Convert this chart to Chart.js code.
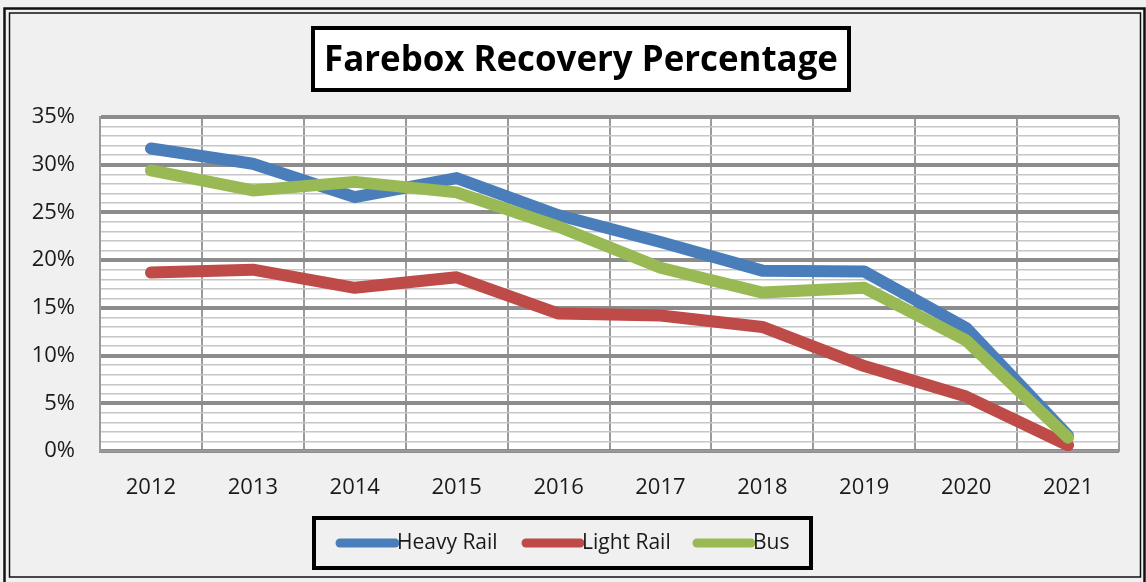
<!DOCTYPE html>
<html>
<head>
<meta charset="utf-8">
<script src="https://cdn.jsdelivr.net/npm/chart.js@4/dist/chart.umd.min.js"></script>
<style>
  html, body { margin: 0; padding: 0; background: #efefef; }
  #wrap { width: 1146px; height: 582px; }
</style>
</head>
<body>
<div id="wrap"><canvas id="c" width="1146" height="582"></canvas></div>
<script>
const chartTitle = 'Farebox Recovery Percentage';
const years = ['2012','2013','2014','2015','2016','2017','2018','2019','2020','2021'];
const heavyRail = [31.7, 30.1, 26.6, 28.6, 24.7, 21.9, 18.9, 18.8, 12.9, 1.6];
const lightRail = [18.7, 19.0, 17.1, 18.2, 14.4, 14.2, 13.0, 8.9, 5.7, 0.6];
const bus       = [29.4, 27.3, 28.2, 27.1, 23.5, 19.2, 16.6, 17.1, 11.6, 1.4];
const seriesNames = ['Heavy Rail', 'Light Rail', 'Bus'];
const seriesColors = ['#4A7EBB', '#BE4B48', '#98B954'];
const yMin = 0, yMax = 35, yMinorStep = 1, yMajorStep = 5;

const FONT = '"Open Sans", "Liberation Sans", sans-serif';

const decor = {
  id: 'decor',
  beforeDraw(chart) {
    const ctx = chart.ctx;
    ctx.save();
    ctx.fillStyle = '#f0f0f0';
    ctx.fillRect(0, 0, chart.width, chart.height);
    const a = chart.chartArea;
    ctx.fillStyle = '#ffffff';
    ctx.fillRect(a.left, a.top, a.right - a.left, a.bottom - a.top);
    ctx.restore();
  },
  afterDraw(chart) {
    const ctx = chart.ctx;
    ctx.save();
    // outer double frame
    ctx.strokeStyle = '#111';
    ctx.lineWidth = 2.5;
    ctx.strokeRect(4.5, 8.5, 1140, 580);
    ctx.lineWidth = 1.5;
    ctx.strokeRect(9.5, 13, 1131, 564);

    // title box
    ctx.fillStyle = '#ffffff';
    ctx.fillRect(313, 28, 536, 62);
    ctx.strokeStyle = '#000';
    ctx.lineWidth = 4;
    ctx.strokeRect(313, 28, 536, 62);
    let fs = 34;
    ctx.font = 'bold ' + fs + 'px ' + FONT;
    const w = ctx.measureText(chartTitle).width;
    fs = fs * 514 / w;
    ctx.font = 'bold ' + fs + 'px ' + FONT;
    ctx.fillStyle = '#000';
    ctx.textAlign = 'center';
    ctx.textBaseline = 'middle';
    ctx.fillText(chartTitle, 581, 61);

    // legend box
    ctx.lineWidth = 4;
    ctx.strokeStyle = '#000';
    ctx.strokeRect(314, 518, 497, 50);
    const ly = 543;
    const items = [
      {x0: 340, x1: 395, tx: 397},
      {x0: 526, x1: 580, tx: 582},
      {x0: 697, x1: 751, tx: 753}
    ];
    ctx.font = '21px ' + FONT;
    ctx.textAlign = 'left';
    ctx.textBaseline = 'middle';
    items.forEach((it, i) => {
      ctx.strokeStyle = seriesColors[i];
      ctx.lineWidth = 9;
      ctx.lineCap = 'round';
      ctx.beginPath();
      ctx.moveTo(it.x0, ly);
      ctx.lineTo(it.x1, ly);
      ctx.stroke();
      ctx.fillStyle = '#1a1a1a';
      ctx.fillText(seriesNames[i], it.tx, ly);
    });
    ctx.restore();
  }
};

const datasets = [heavyRail, lightRail, bus].map((d, i) => ({
  label: seriesNames[i],
  data: d,
  borderColor: seriesColors[i],
  backgroundColor: seriesColors[i],
  borderWidth: 12,
  borderCapStyle: 'round',
  borderJoinStyle: 'round',
  pointRadius: 0,
  pointHoverRadius: 0,
  tension: 0,
  fill: false,
  order: 2 - i
}));

new Chart(document.getElementById('c'), {
  type: 'line',
  data: { labels: years, datasets },
  options: {
    responsive: false,
    animation: false,
    devicePixelRatio: 1,
    layout: { padding: { left: 0, top: 117, right: 27, bottom: 0 } },
    plugins: {
      legend: { display: false },
      title: { display: false },
      tooltip: { enabled: false }
    },
    scales: {
      x: {
        type: 'category',
        offset: true,
        afterFit(s) { s.height = 131; },
        grid: {
          offset: true,
          color: '#9a9a9a',
          lineWidth: 2,
          drawTicks: false
        },
        border: { display: true, color: '#9a9a9a', width: 2 },
        ticks: {
          color: '#1a1a1a',
          font: { family: FONT, size: 22 },
          padding: 24,
          maxRotation: 0,
          autoSkip: false
        }
      },
      y: {
        min: yMin,
        max: yMax,
        afterFit(s) { s.width = 100; },
        grid: {
          color: (c) => (c.tick && c.tick.value % yMajorStep === 0) ? '#8c8c8c' : '#c6c6c6',
          lineWidth: (c) => (c.tick && c.tick.value % yMajorStep === 0) ? 4 : 1.4,
          drawTicks: false
        },
        border: { display: true, color: '#9a9a9a', width: 2 },
        ticks: {
          stepSize: yMinorStep,
          autoSkip: false,
          color: '#1a1a1a',
          padding: 25,
          font: { family: FONT, size: 22 },
          callback: (v) => (v % yMajorStep === 0) ? v + '%' : ''
        }
      }
    }
  },
  plugins: [decor]
});
</script>
</body>
</html>
